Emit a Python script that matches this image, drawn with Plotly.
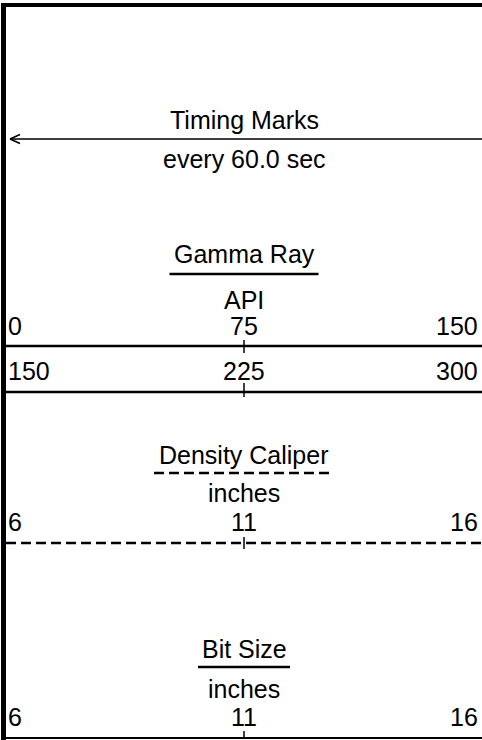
import plotly.graph_objects as go

# ---- data ----
timing_title = "Timing Marks"
timing_sub = "every 60.0 sec"
curve_names = ["Gamma Ray", "Density Caliper", "Bit Size"]
curve_units = ["API", "inches", "inches"]
scale_lo = [0, 150, 6, 6]
scale_mid = [75, 225, 11, 11]
scale_hi = [150, 300, 16, 16]

# ---- layout/styles (pixel frame) ----
W, H = 482, 740
FONT = dict(family="Liberation Sans, Arial, sans-serif", size=25, color="black")
TRACK_LEFT = 6

fig = go.Figure()
fig.add_trace(go.Scatter(x=[0], y=[0], mode="markers", marker=dict(opacity=0), hoverinfo="skip", showlegend=False))

dom = [TRACK_LEFT / W, 1]
axes_layout = {}
for i, (lo, hi) in enumerate(zip(scale_lo, scale_hi)):
    axes_layout[f"xaxis{i+2}"] = dict(range=[lo, hi], domain=dom, anchor="y",
                                      visible=False, showgrid=False, zeroline=False)

fig.update_layout(
    width=W, height=H, margin=dict(l=0, r=0, t=0, b=0),
    paper_bgcolor="white", plot_bgcolor="white",
    xaxis=dict(range=[0, W], visible=False, domain=[0, 1], showgrid=False, zeroline=False),
    yaxis=dict(range=[H, 0], visible=False, domain=[0, 1], showgrid=False, zeroline=False),
    showlegend=False, font=FONT,
    **axes_layout,
)

shapes = []
annots = []

def txt(x, y, s, xref="x", xanchor="center", xshift=0):
    annots.append(dict(x=x, y=y, xref=xref, yref="y", text=s, showarrow=False,
                       xanchor=xanchor, yanchor="middle", xshift=xshift, font=FONT))

def line(x0, y0, x1, y1, w, dash="solid", xref="x"):
    shapes.append(dict(type="line", x0=x0, y0=y0, x1=x1, y1=y1, xref=xref, yref="y",
                       line=dict(color="black", width=w, dash=dash)))

# borders
line(1, 5, W, 5, 4)
line(3.5, 3, 3.5, H, 5)

# timing marks
txt(W / 2 + 3, 120, timing_title)
line(10, 139, W, 139, 1.5)
line(10, 139, 20, 134.5, 1.5)
line(10, 139, 20, 143.5, 1.5)
txt(W / 2 + 3, 158.5, timing_sub)

# curve headers: (title y, underline y, half width, dash, unit y)
hdr = [(253.5, 274, 74.5, "solid", 299.5), (454.5, 473, 90, "10px,5px", 493), (649, 667, 46, "solid", 688.5)]
cx = (TRACK_LEFT + W) / 2
for name, unit, (ty, uy, hw, dash, uny) in zip(curve_names, curve_units, hdr):
    txt(cx, ty, name)
    line(cx - hw, uy, cx + hw, uy, 2.5, dash)
    txt(cx, uny, unit)

# scale rows: (label y, line y, line width, dash, tick y0, tick y1)
rows = [(326, 346, 2.5, "solid", 340, 353),
        (371, 392, 2.5, "solid", 383, 397),
        (522, 543, 2.5, "10px,5px", 537, 549),
        (717, 738, 2, "solid", 731, 739)]
for i, (ly, lny, lw, dash, t0, t1) in enumerate(rows):
    ax = f"x{i+2}"
    txt(scale_lo[i], ly, str(scale_lo[i]), xref=ax, xanchor="left", xshift=0)
    txt(scale_mid[i], ly, str(scale_mid[i]), xref=ax, xanchor="center")
    txt(scale_hi[i], ly, str(scale_hi[i]), xref=ax, xanchor="right", xshift=-2)
    line(TRACK_LEFT, lny, W, lny, lw, dash)
    line(scale_mid[i], t0, scale_mid[i], t1, 1.5, xref=ax)

fig.update_layout(shapes=shapes, annotations=annots)
fig.write_html("out.html", config={"displayModeBar": False},
               post_script="document.body.style.margin='0';document.body.style.overflow='hidden';")
